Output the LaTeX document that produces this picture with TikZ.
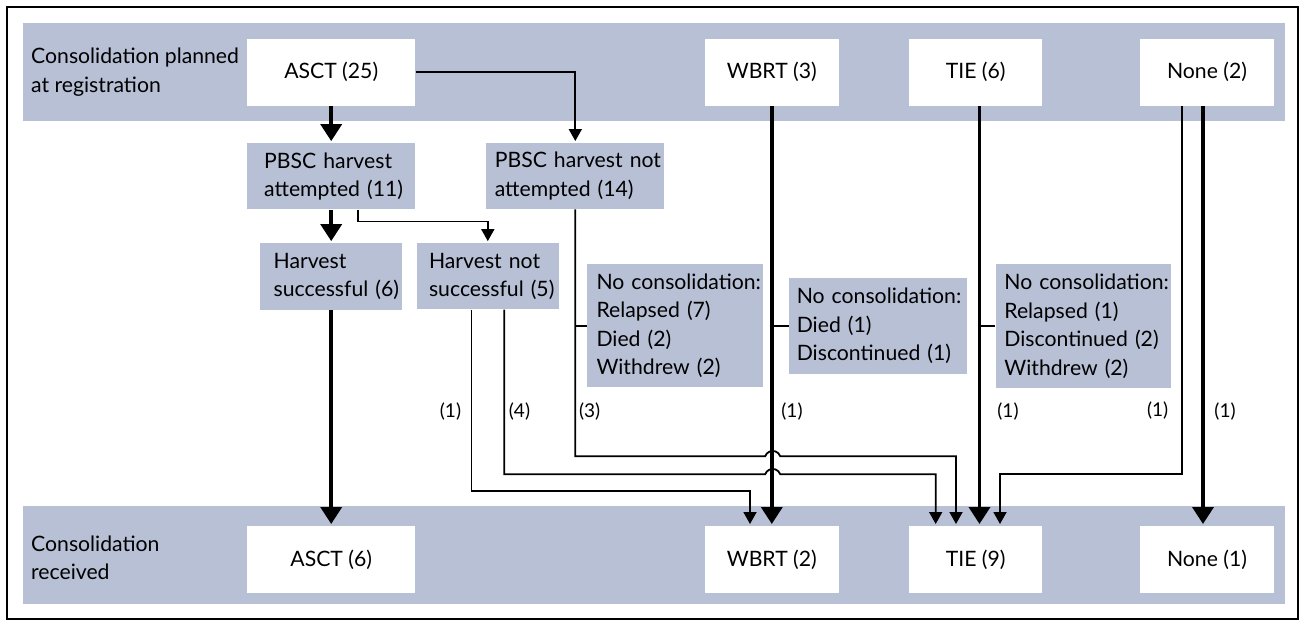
\documentclass[tikz,border=0pt]{standalone}
\usepackage{fontspec}
\setmainfont{Lato}
\usetikzlibrary{arrows.meta}
\definecolor{bandblue}{RGB}{183,192,213}

\begin{document}
\begin{tikzpicture}[x=1pt,y=-1pt,
  font=\fontsize{21.2}{28.5}\selectfont,
  band/.style={fill=bandblue, inner sep=0, minimum width=1262pt, minimum height=98.5pt},
  whitebox/.style={fill=white, inner sep=0, minimum height=66.6pt},
  greybox/.style={fill=bandblue, align=left, inner sep=0,
    execute at begin node={\hyphenpenalty=10000\exhyphenpenalty=10000\hbadness=10000\hfuzz=50pt}},
  rowlabel/.style={align=left, inner sep=0, anchor=west},
  count/.style={font=\fontsize{19}{22}\selectfont, inner sep=0},
  thinline/.style={line width=1.8pt},
  thinarrow/.style={line width=1.8pt, -{Triangle[width=13pt,length=12pt]}, shorten >=2pt},
  thickarrow/.style={line width=3.6pt, -{Triangle[width=21pt,length=17pt]}, shorten >=2pt}]
\useasboundingbox (0,0) rectangle (1302,621);
\draw[line width=2pt] (7,7) rectangle (1298,619);

% bands
\node[band] (plannedband) at (654.4,72.2){};
\node[band] (receivedband) at (654.4,555){};
\node[rowlabel] (plannedlabel) at (31,72){Consolidation planned\\at registration};
\node[rowlabel] (receivedlabel) at (31,558){Consolidation\\received};

% planned
\node[whitebox, minimum width=168.4pt] (asctTop) at (331.2,72.3){ASCT (25)};
\node[whitebox, minimum width=133.7pt] (wbrtTop) at (771.8,72.3){WBRT (3)};
\node[whitebox, minimum width=133.5pt] (tieTop) at (975.7,72.3){TIE (6)};
\node[whitebox, minimum width=134pt] (noneTop) at (1207,72.3){None (2)};

% received
\node[whitebox, minimum width=168.4pt] (asctBot) at (331.2,559.5){ASCT (6)};
\node[whitebox, minimum width=133.7pt] (wbrtBot) at (771.8,559.5){WBRT (2)};
\node[whitebox, minimum width=133.5pt] (tieBot) at (975.7,559.5){TIE (9)};
\node[whitebox, minimum width=134pt] (noneBot) at (1207,559.5){None (1)};

% harvest steps
\node[greybox, minimum width=168pt, minimum height=66pt, text width=134pt] (pbscA) at (331.2,176.3){PBSC~harvest\\attempted~(11)};
\node[greybox, minimum width=178pt, minimum height=66pt, text width=161pt] (pbscN) at (575.3,176.2){PBSC~harvest~not\\attempted~(14)};
\node[greybox, minimum width=142pt, minimum height=66.4pt, text width=115pt] (harvS) at (331.2,276.5){Harvest\\successful~(6)};
\node[greybox, minimum width=141.5pt, minimum height=66pt, text width=117.5pt] (harvN) at (487.8,276.3){Harvest~not\\successful~(5)};

% no consolidation
\node[greybox, minimum width=176pt, minimum height=123.5pt, text width=157pt] (relA) at (675,325.7){No~consolidation:\\Relapsed~(7)\\Died~(2)\\Withdrew~(2)};
\node[greybox, minimum width=178pt, minimum height=95.4pt, text width=162pt] (relB) at (877.8,326){No~consolidation:\\Died~(1)\\Discontinued~(1)};
\node[greybox, minimum width=175.6pt, minimum height=123.5pt, text width=158pt] (relC) at (1083.4,326){No~consolidation:\\Relapsed~(1)\\Discontinued~(2)\\Withdrew~(2)};

% counts
\node[count] (cntA) at (450.5,411.5){(1)};
\node[count] (cntB) at (519.5,411.5){(4)};
\node[count] (cntC) at (589.7,411.5){(3)};
\node[count] (cntD) at (792,411.5){(1)};
\node[count] (cntE) at (1008,412){(1)};
\node[count] (cntF) at (1157.7,411){(1)};
\node[count] (cntG) at (1225,412){(1)};

\draw[thickarrow] (asctTop.south) -- (pbscA.north);
\draw[thinarrow] (asctTop.east) -| (pbscN.north);
\draw[thickarrow] (pbscA.south) -- (harvS.north);
\draw[thinarrow] ([xshift=26.5pt]pbscA.south) -- ++(0,12) -| (harvN.north);
\draw[thickarrow] (harvS.south) -- (asctBot.north);
\draw[thinarrow] ([xshift=-16.4pt]harvN.south) -- ++(0,181.4) -| ([xshift=-21.8pt]wbrtBot.north);
\draw[thinarrow] ([xshift=16.4pt]harvN.south) -- ++(0,164.7) -- ++(261,0) arc[start angle=160, end angle=20, radius=8pt] -| ([xshift=-40pt]tieBot.north);
\draw[thinarrow] (pbscN.south) -- ++(0,246.8) -- ++(189.9,0) arc[start angle=160, end angle=20, radius=8pt] -| ([xshift=-19.7pt]tieBot.north);
\draw[thinline] (pbscN.south |- relA.west) -- (relA.west);
\draw[thickarrow] (wbrtTop.south) -- (wbrtBot.north);
\draw[thinline] (wbrtTop.south |- relB.west) -- (relB.west);
\draw[thickarrow] ([xshift=3.8pt]tieTop.south) -- ([xshift=3.8pt]tieBot.north);
\draw[thinline] ([xshift=3.8pt]tieTop.south |- relC.west) -- (relC.west);
\draw[thinarrow] ([xshift=-25pt]noneTop.south) -- ++(0,368.3) -| ([xshift=24.3pt]tieBot.north);
\draw[thickarrow] ([xshift=-4pt]noneTop.south) -- ([xshift=-4pt]noneBot.north);

\end{tikzpicture}
\end{document}
